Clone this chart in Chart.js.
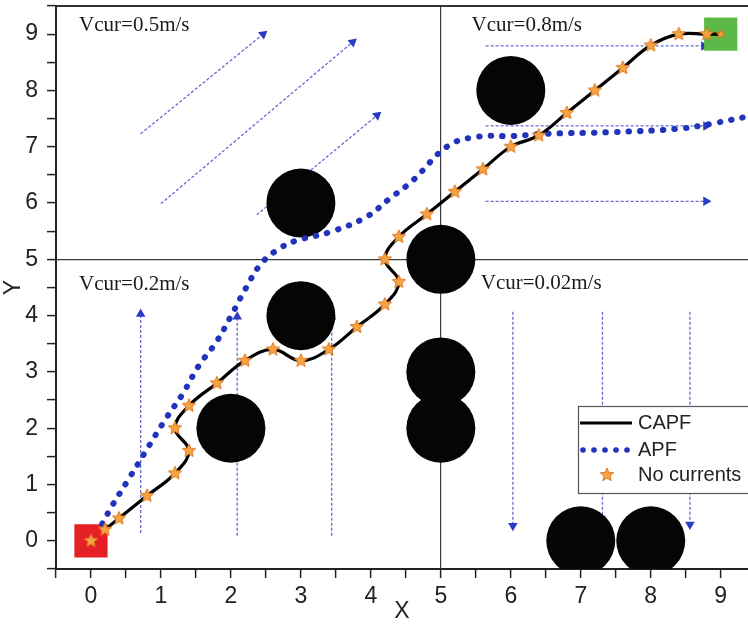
<!DOCTYPE html>
<html>
<head>
<meta charset="utf-8">
<script src="https://cdn.jsdelivr.net/npm/chart.js@4.4.1/dist/chart.umd.min.js"></script>
<style>
  html, body { margin: 0; padding: 0; background: #fff; }
  #wrap { width: 748px; height: 626px; }
</style>
</head>
<body>
<div id="wrap"><canvas id="pathChart" width="748" height="626"></canvas></div>
<script>
// obstacle centres
const obstacleX = [2, 3, 3, 5, 5, 5, 6, 7, 8];
const obstacleY = [2, 4, 6, 5, 3, 2, 8, 0, 0];

const startPoint = { x: 0, y: 0 };
const goalPoint = { x: 9, y: 9 };

// CAPF path (with currents)
const capfX = [0.2, 0.4, 0.8, 1.2, 1.4, 1.2, 1.4, 1.8, 2.2, 2.6, 3.0, 3.4, 3.8, 4.2, 4.4, 4.2, 4.4, 4.8, 5.2, 5.6, 6.0, 6.4, 6.8, 7.2, 7.6, 8.0, 8.4, 8.8, 9.0];
const capfY = [0.2, 0.4, 0.8, 1.2, 1.6, 2.0, 2.4, 2.8, 3.2, 3.4, 3.2, 3.4, 3.8, 4.2, 4.6, 5.0, 5.4, 5.8, 6.2, 6.6, 7.0, 7.2, 7.6, 8.0, 8.4, 8.8, 9.0, 9.0, 9.0];

// no currents (stars)
const starX = [0, 0.2, 0.4, 0.8, 1.2, 1.4, 1.2, 1.4, 1.8, 2.2, 2.6, 3.0, 3.4, 3.8, 4.2, 4.4, 4.2, 4.4, 4.8, 5.2, 5.6, 6.0, 6.4, 6.8, 7.2, 7.6, 8.0, 8.4, 8.8, 9.0];
const starY = [0, 0.2, 0.4, 0.8, 1.2, 1.6, 2.0, 2.4, 2.8, 3.2, 3.4, 3.2, 3.4, 3.8, 4.2, 4.6, 5.0, 5.4, 5.8, 6.2, 6.6, 7.0, 7.2, 7.6, 8.0, 8.4, 8.8, 9.0, 9.0, 9.0];

// APF path
const apfX = [0.16, 0.3, 0.54, 0.83, 1.07, 1.31, 1.54, 1.79, 2.0, 2.21, 2.43, 2.69, 2.93, 3.43, 3.93, 4.26, 4.59, 5.11, 5.54, 6.01, 6.5, 7.44, 8.4, 8.87, 9.36, 9.5];
const apfY = [0.30, 0.62, 1.10, 1.69, 2.17, 2.61, 3.11, 3.53, 3.99, 4.48, 4.92, 5.19, 5.33, 5.49, 5.75, 6.07, 6.39, 7.02, 7.18, 7.19, 7.23, 7.26, 7.32, 7.41, 7.53, 7.56];

// current arrows: tail -> head
const arrowX0 = [0.71, 1.0, 2.37, 5.64, 5.64, 5.64, 0.71, 2.09, 3.44, 6.03, 7.31, 8.56];
const arrowY0 = [7.23, 5.99, 5.79, 8.79, 7.37, 6.03, 0.14, 0.09, 0.09, 4.07, 4.07, 4.07];
const arrowX1 = [2.46, 3.74, 4.09, 8.76, 8.79, 8.79, 0.71, 2.09, 3.44, 6.03, 7.31, 8.56];
const arrowY1 = [9.0, 8.86, 7.56, 8.79, 7.37, 6.03, 4.03, 3.98, 3.98, 0.27, 0.29, 0.29];

// current speed labels
const noteText = ['Vcur=0.5m/s', 'Vcur=0.8m/s', 'Vcur=0.2m/s', 'Vcur=0.02m/s'];
const noteX = [-0.17, 5.44, -0.17, 5.57];
const noteY = [9.15, 9.15, 4.56, 4.58];

const xTicks = [0, 1, 2, 3, 4, 5, 6, 7, 8, 9];
const yTicks = [0, 1, 2, 3, 4, 5, 6, 7, 8, 9];

const sans = "'Liberation Sans', Arial, sans-serif";
const serif = "'Liberation Serif', 'Times New Roman', serif";

function makeStar(outer) {
    const c = document.createElement('canvas');
    const s = Math.ceil(outer * 2 + 4);
    c.width = s; c.height = s;
    const g = c.getContext('2d');
    const inner = outer * 0.45;
    g.beginPath();
    for (let i = 0; i < 10; i++) {
        const r = i % 2 === 0 ? outer : inner;
        const a = -Math.PI / 2 + i * Math.PI / 5;
        const px = s / 2 + r * Math.cos(a);
        const py = s / 2 + r * Math.sin(a);
        if (i === 0) g.moveTo(px, py); else g.lineTo(px, py);
    }
    g.closePath();
    g.fillStyle = '#f5a444';
    g.fill();
    g.lineWidth = 1;
    g.strokeStyle = '#e0781f';
    g.stroke();
    return c;
}
const starImg = makeStar(7);
const smallStar = makeStar(4.5);

const toPts = (xs, ys) => xs.map((x, i) => ({ x: x, y: ys[i] }));

function arrowAngle(ctx) {
    const ds = ctx.chart.data.datasets[ctx.datasetIndex].data;
    const sx = ctx.chart.scales.x, sy = ctx.chart.scales.y;
    const dx = sx.getPixelForValue(ds[1].x) - sx.getPixelForValue(ds[0].x);
    const dy = sy.getPixelForValue(ds[1].y) - sy.getPixelForValue(ds[0].y);
    return Math.atan2(dx, -dy) * 180 / Math.PI;
}

const arrowSets = arrowX0.map((x0, i) => ({
    label: 'current' + i,
    data: [{ x: x0, y: arrowY0[i] }, { x: arrowX1[i], y: arrowY1[i] }],
    showLine: true,
    borderColor: 'rgba(70,80,200,0.85)',
    borderWidth: 1.3,
    borderDash: [3, 2],
    pointStyle: 'triangle',
    pointRadius: c => c.dataIndex === 1 ? 5.5 : 0,
    pointBackgroundColor: '#2a3cc4',
    pointBorderWidth: 0,
    pointRotation: arrowAngle,
    order: 6
}));

const notesPlugin = {
    id: 'notes',
    afterDatasetsDraw(chart) {
        const c = chart.ctx, sx = chart.scales.x, sy = chart.scales.y;
        c.save();
        c.font = '21px ' + serif;
        c.fillStyle = '#1a1a1a';
        c.textBaseline = 'middle';
        c.textAlign = 'left';
        noteText.forEach((t, i) => {
            c.fillText(t, sx.getPixelForValue(noteX[i]), sy.getPixelForValue(noteY[i]));
        });
        c.restore();
    }
};

const legendPlugin = {
    id: 'boxLegend',
    afterDraw(chart) {
        const c = chart.ctx;
        const left = 578, top = 406;
        c.save();
        c.fillStyle = '#fff';
        c.fillRect(left, top, 200, 87);
        c.strokeStyle = '#555';
        c.lineWidth = 1.2;
        c.strokeRect(left + 0.5, top + 0.5, 200, 87);
        // CAPF
        c.strokeStyle = '#000';
        c.lineWidth = 3;
        c.beginPath();
        c.moveTo(left + 2, 423);
        c.lineTo(left + 54, 423);
        c.stroke();
        // APF dots
        c.fillStyle = '#2233bb';
        for (let k = 0; k < 5; k++) {
            c.beginPath();
            c.arc(left + 5 + k * 11, 450, 2.8, 0, Math.PI * 2);
            c.fill();
        }
        // star
        c.drawImage(starImg, left + 29 - starImg.width / 2, 475 - starImg.height / 2);
        c.fillStyle = '#222';
        c.font = '20px ' + sans;
        c.textBaseline = 'middle';
        c.fillText('CAPF', left + 60, 423);
        c.fillText('APF', left + 60, 450);
        c.fillText('No currents', left + 60, 475);
        c.restore();
    }
};

function noPad(s) {
    s.paddingLeft = 0; s.paddingRight = 0;
    s.paddingTop = 0; s.paddingBottom = 0;
}

const ctx = document.getElementById('pathChart').getContext('2d');

new Chart(ctx, {
    type: 'scatter',
    data: {
        datasets: [
            ...arrowSets,
            {
                label: 'Obstacles',
                data: toPts(obstacleX, obstacleY),
                pointRadius: 34.5,
                pointBackgroundColor: '#050505',
                pointBorderWidth: 0,
                order: 5
            },
            {
                label: 'Start',
                data: [startPoint],
                pointStyle: 'rect',
                pointRadius: 23.5,
                pointBackgroundColor: '#e51f26',
                pointBorderWidth: 0,
                order: 4
            },
            {
                label: 'Goal',
                data: [goalPoint],
                pointStyle: 'rect',
                pointRadius: 23.5,
                pointBackgroundColor: '#5cb947',
                pointBorderWidth: 0,
                order: 4
            },
            {
                label: 'APF',
                data: toPts(apfX, apfY),
                showLine: true,
                borderColor: '#2233bb',
                borderWidth: 6,
                borderDash: [0.5, 11],
                borderCapStyle: 'round',
                tension: 0.4,
                pointRadius: 0,
                order: 3
            },
            {
                label: 'CAPF',
                data: toPts(capfX, capfY),
                showLine: true,
                borderColor: '#000',
                borderWidth: 3.2,
                tension: 0.4,
                pointRadius: 0,
                order: 2
            },
            {
                label: 'No currents',
                data: toPts(starX, starY),
                pointStyle: c => c.dataIndex === starX.length - 1 ? smallStar : starImg,
                order: 1
            }
        ]
    },
    options: {
        responsive: false,
        animation: false,
        events: [],
        layout: { autoPadding: false, padding: { top: 6, right: 0, left: 0, bottom: 0 } },
        plugins: {
            legend: { display: false },
            tooltip: { enabled: false }
        },
        scales: {
            x: {
                type: 'linear',
                position: 'bottom',
                min: -0.5,
                max: 9.39,
                ticks: {
                    stepSize: 0.5,
                    includeBounds: false,
                    autoSkip: false,
                    maxRotation: 0,
                    padding: 5,
                    color: '#222',
                    font: { size: 23, family: sans },
                    callback: v => xTicks.includes(v) ? String(v) : ''
                },
                grid: {
                    color: c => c.tick && c.tick.value === 5 ? '#3c3c3c' : 'rgba(0,0,0,0)',
                    lineWidth: 1.2,
                    tickColor: '#222',
                    tickWidth: 1.5,
                    tickLength: 9
                },
                border: { color: '#222', width: 2 },
                title: { display: true, text: 'X', color: '#222', padding: 1, font: { size: 23, family: sans } },
                afterFit: s => { s.height = 57; noPad(s); }
            },
            xTop: {
                type: 'linear',
                position: 'top',
                min: -0.5,
                max: 9.39,
                ticks: { display: false },
                grid: { display: false, drawTicks: false },
                border: { display: true, color: '#333', width: 2 },
                afterFit: s => { s.height = 0; noPad(s); }
            },
            y: {
                type: 'linear',
                position: 'left',
                min: -0.5,
                max: 9.5,
                ticks: {
                    stepSize: 0.5,
                    includeBounds: false,
                    autoSkip: false,
                    padding: 9,
                    color: '#222',
                    font: { size: 23, family: sans },
                    callback: v => yTicks.includes(v) ? String(v) : ''
                },
                grid: {
                    color: c => c.tick && c.tick.value === 5 ? '#3c3c3c' : 'rgba(0,0,0,0)',
                    lineWidth: 1.2,
                    tickColor: '#222',
                    tickWidth: 1.5,
                    tickLength: 9
                },
                border: { color: '#222', width: 2 },
                title: { display: true, text: 'Y', color: '#222', padding: 0, font: { size: 23, family: sans } },
                afterFit: s => { s.width = 56; noPad(s); }
            }
        }
    },
    plugins: [notesPlugin, legendPlugin]
});
</script>
</body>
</html>
